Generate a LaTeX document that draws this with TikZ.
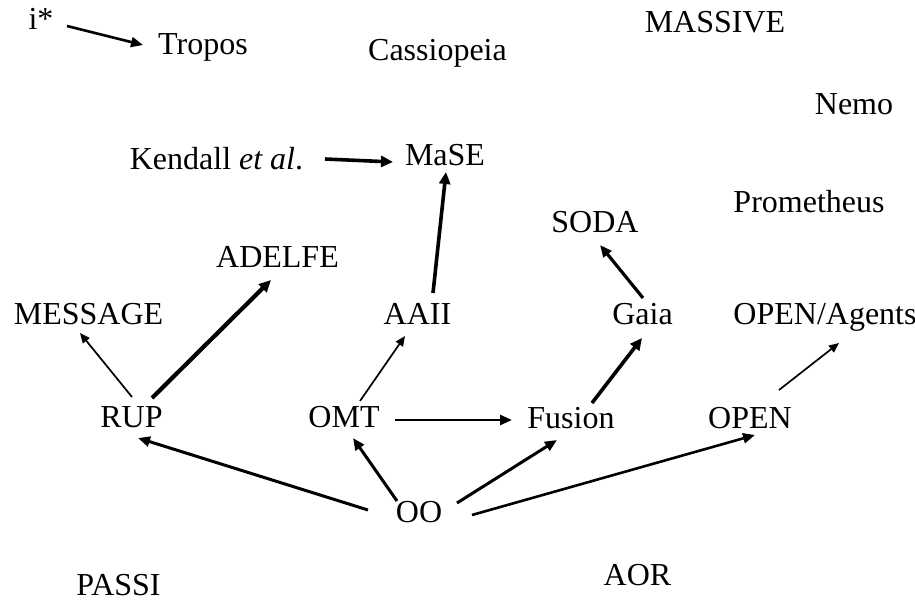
\documentclass[tikz,border=0pt]{standalone}
\usepackage{fontspec}
\setmainfont{Liberation Serif}
\usetikzlibrary{arrows.meta}
\begin{document}
\begin{tikzpicture}[x=1pt,y=-1pt,
  lbl/.style={anchor=base,inner sep=0pt,font=\fontsize{32}{38}\selectfont},
  link/.style={draw,line width=#1,-{Triangle[length=12pt,width=10pt]}},
  link/.default=2.6pt,
  thinlink/.style={link=1.7pt,-{Triangle[length=10pt,width=8.5pt]}},
  boldlink/.style={link=3.6pt,-{Triangle[length=12pt,width=11pt]}}]
\useasboundingbox[fill=white] (0,0) rectangle (915,601);

% method names
\node[lbl] (istar)   at (41,30)    {i*};
\node[lbl] (tropos)  at (203,55)   {Tropos};
\node[lbl] (cass)    at (437.5,61) {Cassiopeia};
\node[lbl] (massive) at (715,33)   {MASSIVE};
\node[lbl] (nemo)    at (854,115)  {Nemo};
\node[lbl] (kendall) at (216.5,170){Kendall \textit{et al}.};
\node[lbl] (mase)    at (445,166)  {MaSE};
\node[lbl] (prom)    at (809,213)  {Prometheus};
\node[lbl] (soda)    at (595,233)  {SODA};
\node[lbl] (adelfe)  at (277.5,268){ADELFE};
\node[lbl] (message) at (88.5,325) {MESSAGE};
\node[lbl] (aaii)    at (417.5,324){AAII};
\node[lbl] (gaia)    at (642.5,325){Gaia};
\node[lbl] (openag)  at (825,325)  {OPEN/Agents};
\node[lbl] (rup)     at (131.5,427){RUP};
\node[lbl] (omt)     at (344,427)  {OMT};
\node[lbl] (fusion)  at (571,428)  {Fusion};
\node[lbl] (open)    at (750,428)  {OPEN};
\node[lbl] (oo)      at (419,522)  {OO};
\node[lbl] (passi)   at (118.5,595){PASSI};
\node[lbl] (aor)     at (637.5,585){AOR};

% derivation arrows
\draw[link] ([shift={(26,-4)}]istar.base) -- ([shift={(-60,-10)}]tropos.base);
\draw[boldlink] ([shift={(108.5,-11)}]kendall.base) -- ([shift={(-52,-4)}]mase.base);
\draw[boldlink] ([shift={(15.5,-31)}]aaii.base) -- ([shift={(1,6)}]mase.base);
\draw[thinlink] ([shift={(0.5,-30)}]rup.base) -- ([shift={(-8.5,8)}]message.base);
\draw[boldlink,line width=4.2pt] ([shift={(20.5,-29)}]rup.base) -- ([shift={(-6.5,12)}]adelfe.base);
\draw[thinlink] ([shift={(16,-26)}]omt.base) -- ([shift={(-12.5,12)}]aaii.base);
\draw[link] ([shift={(51,-7)}]omt.base) -- ([shift={(-59,-8)}]fusion.base);
\draw[boldlink] ([shift={(21,-25)}]fusion.base) -- ([shift={(-0.5,13)}]gaia.base);
\draw[link=3.2pt] ([shift={(0.5,-27)}]gaia.base) -- ([shift={(5,12)}]soda.base);
\draw[thinlink] ([shift={(29,-38)}]open.base) -- ([shift={(14,18)}]openag.base);
\draw[link=3pt] ([shift={(-51,-12)}]oo.base) -- ([shift={(6.5,11)}]rup.base);
\draw[link=3pt] ([shift={(-22,-21)}]oo.base) -- ([shift={(9,11)}]omt.base);
\draw[link=3pt] ([shift={(38,-19)}]oo.base) -- ([shift={(-14,12)}]fusion.base);
\draw[link] ([shift={(53,-7)}]oo.base) -- ([shift={(5,7)}]open.base);
\end{tikzpicture}
\end{document}
